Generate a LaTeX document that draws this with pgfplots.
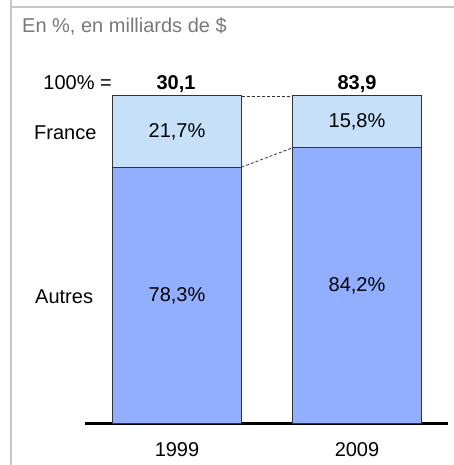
\documentclass[border=0pt]{standalone}
\usepackage{fontspec}
\setmainfont{Liberation Sans}
\usepackage{pgfplots}
\pgfplotsset{compat=1.18}
\definecolor{darkbar}{RGB}{146,174,255}
\definecolor{lightbar}{RGB}{198,224,250}
\definecolor{framegray}{RGB}{200,200,200}
\definecolor{titlegray}{RGB}{120,120,120}
\newcommand{\cf}{\fontsize{20}{24}\selectfont}
\begin{document}
\begin{tikzpicture}[x=1pt,y=1pt]
\path[use as bounding box] (0,0) rectangle (454,465);
\draw[framegray, line width=2pt] (11,465) -- (11,0);
\draw[framegray, line width=2pt] (10,458) -- (454,458);
\node[anchor=base west, text=titlegray, inner sep=0pt, font=\cf] at (22,432) {En \%, en milliards de \$};
\begin{axis}[
  at={(85pt,41pt)}, anchor=south west,
  scale only axis, width=363pt, height=328pt,
  xmin=85, xmax=448, ymin=0, ymax=100,
  enlargelimits=false, clip=false,
  ybar stacked, bar width=129pt,
  axis x line=bottom, axis y line=none,
  axis line style={-, line width=3pt, black},
  xtick={177,357}, xticklabels={\mbox{1999},\mbox{2009}},
  xtick style={draw=none}, major tick length=0pt,
  xticklabel style={font=\cf, anchor=center, yshift=-26pt},
  /pgf/number format/assume math mode=true,
]
\addplot[fill=darkbar, draw=black!80, line width=1pt] coordinates {(177,78.3) (357,84.2)};
\addplot[fill=lightbar, draw=black!80, line width=1pt] coordinates {(177,21.7) (357,15.8)};
\draw[densely dashed, black!80, line width=0.8pt] (axis cs:241.5,100) -- (axis cs:292.5,100);
\draw[densely dashed, black!80, line width=0.8pt] (axis cs:241.5,78.3) -- (axis cs:292.5,84.2);
\coordinate (fa) at (axis cs:177,89.15);
\coordinate (aa) at (axis cs:177,39.15);
\coordinate (fb) at (axis cs:357,92.1);
\coordinate (ab) at (axis cs:357,42.1);
\end{axis}
\node[font=\cf] at (fa) {21,7\%};
\node[font=\cf] at (aa) {78,3\%};
\node[font=\cf] at (fb) {15,8\%};
\node[font=\cf] at (ab) {84,2\%};
\node[font=\cf, anchor=base east, inner sep=0pt] at (112,375) {100\% =};
\node[font=\cf\bfseries, anchor=base, inner sep=0pt] at (176,375) {30,1};
\node[font=\cf\bfseries, anchor=base, inner sep=0pt] at (357,375) {83,9};
\node[font=\cf, anchor=west, inner sep=0pt] at (34,332) {France};
\node[font=\cf, anchor=west, inner sep=0pt] at (35,168) {Autres};
\end{tikzpicture}
\end{document}
